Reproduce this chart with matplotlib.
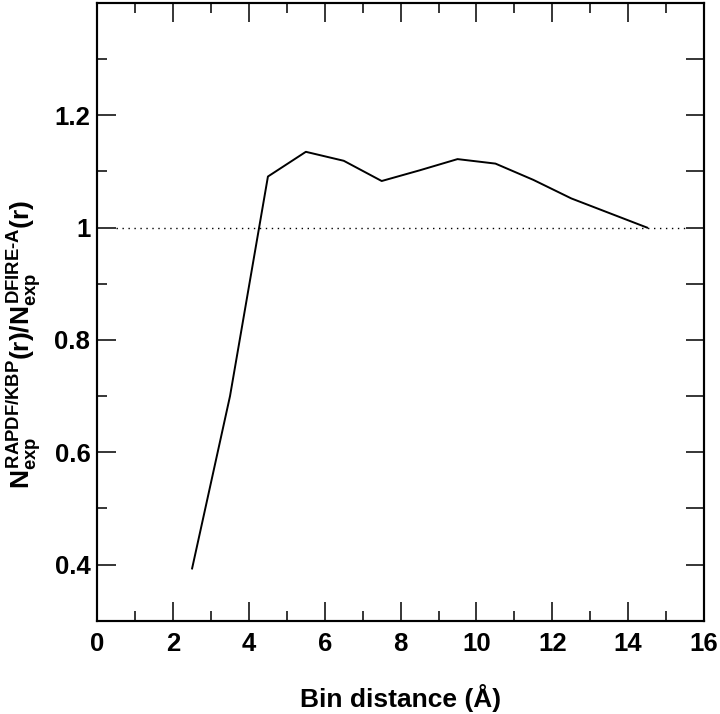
import matplotlib
matplotlib.use("Agg")
import matplotlib.pyplot as plt
from matplotlib.ticker import MultipleLocator

plt.rcParams['font.family'] = ['Liberation Sans', 'DejaVu Sans']
plt.rcParams['font.weight'] = 'bold'
plt.rcParams['mathtext.fontset'] = 'custom'
plt.rcParams['mathtext.rm'] = 'Liberation Sans:bold'
plt.rcParams['mathtext.it'] = 'Liberation Sans:bold'
plt.rcParams['mathtext.bf'] = 'Liberation Sans:bold'
plt.rcParams['mathtext.sf'] = 'Liberation Sans:bold'

# Data
bin_distance = [2.5, 3.5, 4.5, 5.5, 6.5, 7.5, 8.5, 9.5, 10.5, 11.5, 12.5, 13.5, 14.5]
ratio = [0.393, 0.700, 1.091, 1.135, 1.119, 1.083, 1.102, 1.122, 1.114, 1.085, 1.052, 1.026, 1.000]
ref_x = [0.5, 15.5]
ref_y = [1.0, 1.0]
xticks = [0, 2, 4, 6, 8, 10, 12, 14, 16]
yticks = [0.4, 0.6, 0.8, 1.0, 1.2]
yticklabels = ['0.4', '0.6', '0.8', '1', '1.2']

fig = plt.figure(figsize=(7.2, 7.14), dpi=100)
ax = fig.add_axes([97.3/720, 1-620.7/714, (704-97.3)/720, (620.7-3)/714])

ax.plot(ref_x, ref_y, color='black', lw=1.0, linestyle=(0, (1, 3.3)))
ax.plot(bin_distance, ratio, color='black', lw=1.4)

ax.set_xlim(0, 16)
ax.set_ylim(0.3, 1.4)
ax.set_xticks(xticks)
ax.set_yticks(yticks)
ax.set_yticklabels(yticklabels)
ax.xaxis.set_minor_locator(MultipleLocator(1))
ax.yaxis.set_minor_locator(MultipleLocator(0.1))

for s in ax.spines.values():
    s.set_linewidth(1.5)

ax.tick_params(which='major', direction='in', length=13.5, width=1.1,
               top=True, right=False, labelsize=18.5, pad=8)
ax.tick_params(which='minor', direction='in', length=7.5, width=1.1,
               top=True, right=False)
ax.tick_params(axis='y', which='major', pad=5)

# right side ticks all same length
ax2 = ax.twinx()
ax2.set_ylim(0.3, 1.4)
ax2.set_yticks([0.4, 0.5, 0.6, 0.7, 0.8, 0.9, 1.0, 1.1, 1.2, 1.3])
ax2.tick_params(direction='in', length=13, width=1.1, labelright=False)
for s in ax2.spines.values():
    s.set_linewidth(1.5)

for lab in ax.get_xticklabels() + ax.get_yticklabels():
    lab.set_fontweight('bold')

ax.set_xlabel('Bin distance (Å)', fontsize=19, fontweight='bold', labelpad=20)
ax.set_ylabel(r'$N_{exp}^{RAPDF/KBP}(r)/N_{exp}^{DFIRE\text{-}A}(r)$', fontsize=19, labelpad=8)
ax.yaxis.label.set_y(0.447)

fig.savefig('out.png', dpi=100)
